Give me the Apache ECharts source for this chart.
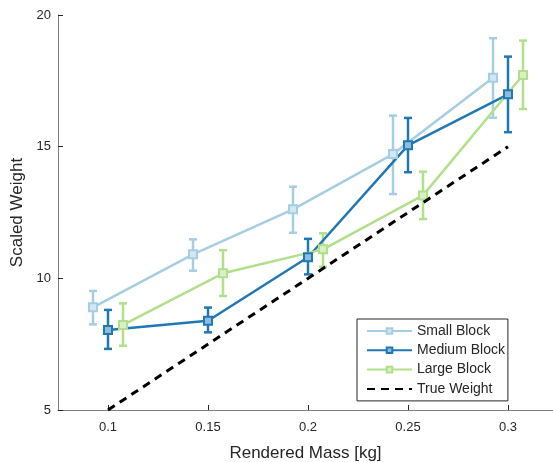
<!DOCTYPE html>
<html>
<head>
<meta charset="utf-8">
<script src="https://cdn.jsdelivr.net/npm/echarts@6/dist/echarts.min.js"></script>
<style>
  html, body { margin: 0; padding: 0; background: #fff; }
  #chart { width: 553px; height: 462px; }
</style>
</head>
<body>
<div id="chart"></div>
<script>
// rendered masses [kg]
const massLevels = [0.1, 0.15, 0.2, 0.25, 0.3];
const xTicks = [0.1, 0.15, 0.2, 0.25, 0.3];

// scaled weight per block size (mean, lower, upper)
const smallMean = [8.9, 10.91, 12.62, 14.72, 17.62];
const smallLow = [8.25, 10.29, 11.73, 13.2, 16.1];
const smallHigh = [9.52, 11.48, 13.48, 16.18, 19.12];

const mediumMean = [8.04, 8.39, 10.8, 15.05, 16.99];
const mediumLow = [7.32, 7.95, 10.15, 14.03, 15.55];
const mediumHigh = [8.8, 8.89, 11.5, 16.09, 18.42];

const largeMean = [8.23, 10.19, 11.1, 13.15, 17.72];
const largeLow = [7.44, 9.33, 10.44, 12.25, 16.43];
const largeHigh = [9.05, 11.07, 11.71, 14.05, 19.03];

const trueMass = [0.1, 0.3];
const trueWeight = [5, 15];

// 横向错开，避免误差棒重叠
const jitter = 0.0075;
const font = 'Liberation Sans, Helvetica, Arial, sans-serif';

const chart = echarts.init(document.getElementById('chart'));

function lineSeries(name, shift, mean, color, fill) {
    return {
        name: name,
        type: 'line',
        data: massLevels.map((m, i) => [m + shift, mean[i]]),
        symbol: 'rect',
        symbolSize: 8,
        z: 3,
        lineStyle: { color: color, width: 2.5 },
        itemStyle: { color: fill, borderColor: color, borderWidth: 2 },
        emphasis: { disabled: true },
    };
}

function errorSeries(name, shift, low, high, color) {
    return {
        name: name,
        type: 'custom',
        z: 2,
        data: massLevels.map((m, i) => [m + shift, low[i], high[i]]),
        renderItem: function (params, api) {
            const x = api.value(0);
            const top = api.coord([x, api.value(2)]);
            const bot = api.coord([x, api.value(1)]);
            const w = 4;
            const style = { stroke: color, lineWidth: 2.5 };
            return {
                type: 'group',
                children: [
                    { type: 'line', shape: { x1: top[0], y1: top[1], x2: bot[0], y2: bot[1] }, style: style },
                    { type: 'line', shape: { x1: top[0] - w, y1: top[1], x2: top[0] + w, y2: top[1] }, style: style },
                    { type: 'line', shape: { x1: bot[0] - w, y1: bot[1], x2: bot[0] + w, y2: bot[1] }, style: style },
                ],
            };
        },
    };
}

const option = {
    animation: false,
    textStyle: { fontFamily: font },
    grid: { left: 58, right: 0, top: 15, bottom: 52, outerBoundsMode: 'none', containLabel: false },
    xAxis: {
        type: 'value',
        min: 0.075,
        max: 0.3225,
        name: 'Rendered Mass [kg]',
        nameLocation: 'middle',
        nameGap: 35,
        nameTextStyle: { fontSize: 17, color: '#262626', fontFamily: font },
        axisLine: { lineStyle: { color: '#808080', width: 1 } },
        axisTick: { show: true, inside: true, length: 5, customValues: xTicks, lineStyle: { color: '#262626' } },
        axisLabel: {
            customValues: xTicks,
            margin: 11,
            fontSize: 13,
            color: '#262626',
            fontFamily: font,
            formatter: v => String(+v.toFixed(2)),
        },
        splitLine: { show: false },
    },
    yAxis: {
        type: 'value',
        min: 5,
        max: 20,
        interval: 5,
        name: 'Scaled Weight',
        nameLocation: 'middle',
        nameGap: 27,
        nameTextStyle: { fontSize: 17, color: '#262626', fontFamily: font },
        axisLine: { show: true, lineStyle: { color: '#808080', width: 1 } },
        axisTick: { show: true, inside: true, length: 5, lineStyle: { color: '#262626' } },
        axisLabel: { margin: 7, fontSize: 13, color: '#262626', fontFamily: font },
        splitLine: { show: false },
    },
    legend: {
        data: ['Small Block', 'Medium Block', 'Large Block', 'True Weight'],
        orient: 'vertical',
        left: 357,
        top: 319,
        padding: [5, 3, 5, 9],
        itemWidth: 45,
        itemHeight: 7,
        itemGap: 5.3,
        backgroundColor: '#fff',
        borderColor: '#262626',
        borderWidth: 1,
        borderRadius: 0,
        textStyle: { fontSize: 14, color: '#262626', fontFamily: font },
    },
    series: [
        errorSeries('Small Block err', -jitter, smallLow, smallHigh, '#a6cee3'),
        errorSeries('Medium Block err', 0, mediumLow, mediumHigh, '#1f78b4'),
        errorSeries('Large Block err', jitter, largeLow, largeHigh, '#b2df8a'),
        lineSeries('Small Block', -jitter, smallMean, '#a6cee3', '#d2e7f1'),
        lineSeries('Medium Block', 0, mediumMean, '#1f78b4', '#8fbcda'),
        lineSeries('Large Block', jitter, largeMean, '#b2df8a', '#d9efc5'),
        {
            name: 'True Weight',
            type: 'line',
            data: trueMass.map((m, i) => [m, trueWeight[i]]),
            symbol: 'none',
            z: 4,
            lineStyle: { color: '#000', width: 3, type: [8, 6] },
            itemStyle: { color: 'rgba(0,0,0,0)', borderWidth: 0 },
        },
    ],
};

chart.setOption(option);
</script>
</body>
</html>
